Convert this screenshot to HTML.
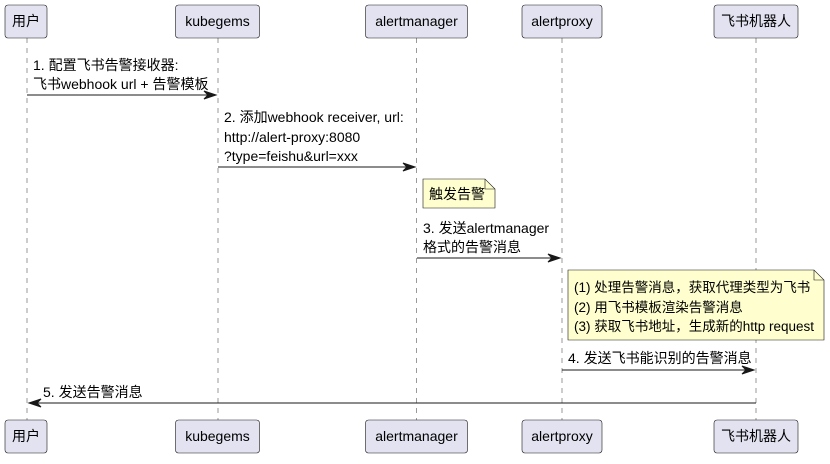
<!DOCTYPE html>
<html><head><meta charset="utf-8"><style>
html,body{margin:0;padding:0;background:#fff;}
text{font-family:"Liberation Sans","Noto Sans CJK SC",sans-serif;font-size:14px;fill:#000;}
text.n{font-size:13.5px;}
</style></head><body>
<svg width="830" height="459" viewBox="0 0 830 459" xmlns="http://www.w3.org/2000/svg">
<g stroke="#9a9a9a" stroke-width="1" stroke-dasharray="5,5">
<line x1="27" y1="38" x2="27" y2="420"/>
<line x1="218" y1="38" x2="218" y2="420"/>
<line x1="416.5" y1="38" x2="416.5" y2="420"/>
<line x1="562" y1="38" x2="562" y2="420"/>
<line x1="756" y1="38" x2="756" y2="420"/>
</g>
<g fill="#e2e2f0" stroke="#181818" stroke-width="0.6">
<rect x="5" y="5" width="42" height="33" rx="3"/>
<rect x="175.5" y="5" width="84" height="33" rx="3"/>
<rect x="365.5" y="5" width="102" height="33" rx="3"/>
<rect x="522" y="5" width="80" height="33" rx="3"/>
<rect x="714" y="5" width="84" height="33" rx="3"/>
<rect x="5" y="420" width="42" height="33" rx="3"/>
<rect x="175.5" y="420" width="84" height="33" rx="3"/>
<rect x="365.5" y="420" width="102" height="33" rx="3"/>
<rect x="522" y="420" width="80" height="33" rx="3"/>
<rect x="714" y="420" width="84" height="33" rx="3"/>
</g>
<g text-anchor="middle">
<text x="26" y="26">用户</text><text x="217.5" y="26">kubegems</text><text x="416.5" y="26">alertmanager</text><text x="562" y="26">alertproxy</text><text x="756" y="26">飞书机器人</text>
<text x="26" y="441">用户</text><text x="217.5" y="441">kubegems</text><text x="416.5" y="441">alertmanager</text><text x="562" y="441">alertproxy</text><text x="756" y="441">飞书机器人</text>
</g>
<g stroke="#181818" stroke-width="1" fill="#181818">
<line x1="27" y1="95" x2="216" y2="95"/><polygon points="216,95 204,91 208,95 204,99"/>
<line x1="218" y1="167" x2="415" y2="167"/><polygon points="415,167 403,163 407,167 403,171"/>
<line x1="417" y1="258" x2="560" y2="258"/><polygon points="560,258 548,254 552,258 548,262"/>
<line x1="562" y1="370" x2="754" y2="370"/><polygon points="754,370 742,366 746,370 742,374"/>
<line x1="29" y1="403" x2="756" y2="403"/><polygon points="29,403 41,399 37,403 41,407"/>
</g>
<text x="33" y="70">1. 配置飞书告警接收器:</text>
<text x="33" y="89">飞书webhook url + 告警模板</text>
<text x="224" y="122">2. 添加webhook receiver, url:</text>
<text x="224" y="142">http://alert-proxy:8080</text>
<text x="224" y="161">?type=feishu&amp;url=xxx</text>
<path d="M423,179 L485,179 L495,189 L495,208 L423,208 Z" fill="#fefece" stroke="#181818" stroke-width="0.6"/>
<path d="M485,179 L485,189 L495,189" fill="none" stroke="#181818" stroke-width="0.6"/>
<text x="429" y="199">触发告警</text>
<text x="423" y="233">3. 发送alertmanager</text>
<text x="423" y="252">格式的告警消息</text>
<path d="M568,270 L814,270 L824,280 L824,340 L568,340 Z" fill="#fefece" stroke="#181818" stroke-width="0.6"/>
<path d="M814,270 L814,280 L824,280" fill="none" stroke="#181818" stroke-width="0.6"/>
<text class="n" x="574" y="292">(1) 处理告警消息，获取代理类型为飞书</text>
<text class="n" x="574" y="312">(2) 用飞书模板渲染告警消息</text>
<text class="n" x="574" y="331">(3) 获取飞书地址，生成新的http request</text>
<text x="568" y="363">4. 发送飞书能识别的告警消息</text>
<text x="43" y="397">5. 发送告警消息</text>
</svg>
</body></html>
